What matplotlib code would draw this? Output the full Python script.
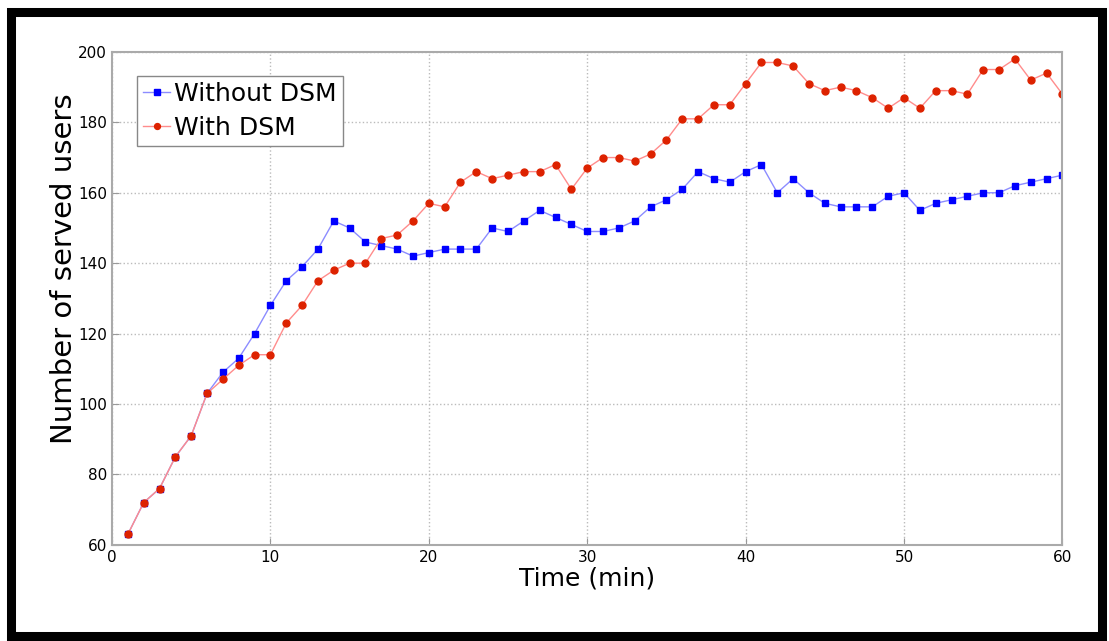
import numpy as np
import matplotlib
matplotlib.use('Agg')
import matplotlib.pyplot as plt
from matplotlib.patches import Rectangle

time_min = list(range(1, 61))

without_dsm = [63, 72, 76, 85, 91, 103, 109, 113, 120, 128,
               135, 139, 144, 152, 150, 146, 145, 144, 142, 143,
               144, 144, 144, 150, 149, 152, 155, 153, 151, 149,
               149, 150, 152, 156, 158, 161, 166, 164, 163, 166,
               168, 160, 164, 160, 157, 156, 156, 156, 159, 160,
               155, 157, 158, 159, 160, 160, 162, 163, 164, 165]

with_dsm = [63, 72, 76, 85, 91, 103, 107, 111, 114, 114,
            123, 128, 135, 138, 140, 140, 147, 148, 152, 157,
            156, 163, 166, 164, 165, 166, 166, 168, 161, 167,
            170, 170, 169, 171, 175, 181, 181, 185, 185, 191,
            197, 197, 196, 191, 189, 190, 189, 187, 184, 187,
            184, 189, 189, 188, 195, 195, 198, 192, 194, 188]

x_ticks = [0, 10, 20, 30, 40, 50, 60]
y_ticks = [60, 80, 100, 120, 140, 160, 180, 200]

fig = plt.figure(figsize=(11.09, 6.41), dpi=100)
ax = fig.add_axes([0.101, 0.150, 0.857, 0.769])

ax.plot(time_min, without_dsm, color='#8c8cff', lw=1.0, marker='s', ms=5,
        mfc='#0000ff', mec='#0000ff', label='Without DSM')
ax.plot(time_min, with_dsm, color='#ff8c8c', lw=1.0, marker='o', ms=5,
        mfc='#dd2200', mec='#dd2200', label='With DSM')

ax.set_xlim(0, 60)
ax.set_ylim(60, 200)
ax.set_xticks(x_ticks)
ax.set_yticks(y_ticks)
ax.tick_params(labelsize=11, direction='in', length=5, color='#999999')
ax.grid(True, ls=':', color='#bbbbbb', lw=1)
for s in ax.spines.values():
    s.set_color('#aaaaaa')
    s.set_linewidth(1.5)

ax.set_xlabel('Time (min)', fontsize=18, labelpad=1)
ax.set_ylabel('Number of served users', fontsize=21)
ax.yaxis.set_label_coords(-0.036, 0.56)

leg = ax.legend(loc='upper left', bbox_to_anchor=(0.026, 0.952), fontsize=18,
                handlelength=1.1, handletextpad=0.15, borderpad=0.25,
                labelspacing=0.4, borderaxespad=0, markerscale=0.85,
                fancybox=False, framealpha=1)
leg.get_frame().set_edgecolor('#888888')
leg.get_frame().set_linewidth(1)

# thick black frame around the whole picture
fig.patches.append(Rectangle((11 / 1109, 5 / 641), 1091 / 1109, 624 / 641,
                             transform=fig.transFigure, fill=False,
                             edgecolor='black', lw=6.5))

fig.savefig('out.png', dpi=100)
